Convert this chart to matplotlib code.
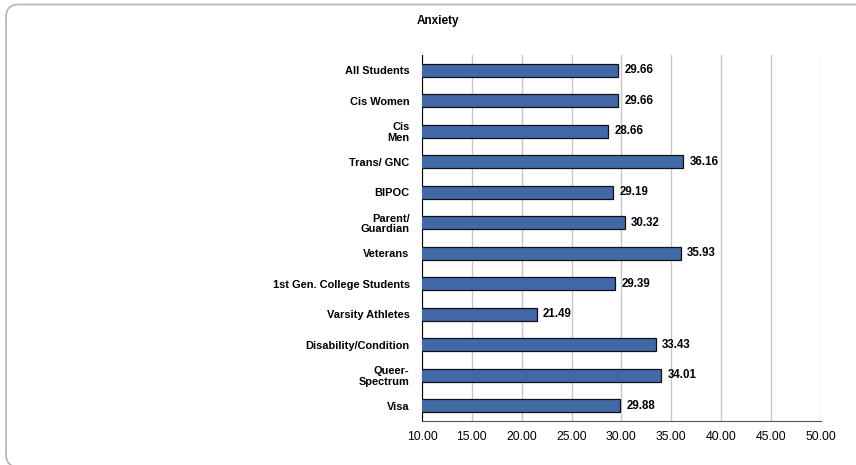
import matplotlib.pyplot as plt
from matplotlib.patches import FancyBboxPatch

categories = ["All Students", "Cis Women", "Cis\nMen", "Trans/ GNC", "BIPOC",
              "Parent/\nGuardian", "Veterans", "1st Gen. College Students",
              "Varsity Athletes", "Disability/Condition", "Queer-\nSpectrum", "Visa"]
values = [29.66, 29.66, 28.66, 36.16, 29.19, 30.32, 35.93, 29.39, 21.49, 33.43, 34.01, 29.88]
xticks = [10, 15, 20, 25, 30, 35, 40, 45, 50]

plt.rcParams['font.family'] = ['Liberation Sans', 'DejaVu Sans']

W, H = 856, 465
fig = plt.figure(figsize=(W / 100, H / 100), dpi=100)
ax = fig.add_axes([0.493, 0.0946, 0.466, 0.787])

# rounded frame, running off the right and bottom edges like the original
frame = FancyBboxPatch((6 / W, -2 / H), 1.05, 462.5 / H, boxstyle="round,pad=0,rounding_size=0.015",
                       transform=fig.transFigure, facecolor="none", edgecolor="#b4b4b4",
                       linewidth=1.2, mutation_aspect=W / H)
fig.patches.append(frame)

y = range(len(categories))
ax.barh(y, values, height=0.43, left=0, color="#4169a8", edgecolor="#111111", linewidth=0.9, zorder=3)
for i, v in enumerate(values):
    ax.text(v + 0.65, i, f"{v:.2f}", va="center", ha="left", fontsize=8.3, fontweight="bold")

ax.set_xlim(10, 50)
ax.set_ylim(len(categories) - 0.5, -0.5)
ax.set_xticks(xticks)
ax.set_xticklabels([f"{t:.2f}" for t in xticks], fontsize=8.8)
ax.set_yticks(list(y))
ax.set_yticklabels(categories, fontsize=7.9, fontweight="bold", linespacing=1.05)
ax.tick_params(axis="x", length=0, pad=7)
ax.tick_params(axis="y", length=0, pad=9)
ax.grid(axis="x", color="#c8c8c8", linewidth=1.0, zorder=0)
for s in ["top", "right"]:
    ax.spines[s].set_visible(False)
ax.spines["left"].set_color("black")
ax.spines["bottom"].set_color("#555555")

fig.text(0.512, 0.955, "Anxiety", ha="center", va="center", fontsize=8.5, fontweight="bold")

fig.savefig("out.png", dpi=100)
